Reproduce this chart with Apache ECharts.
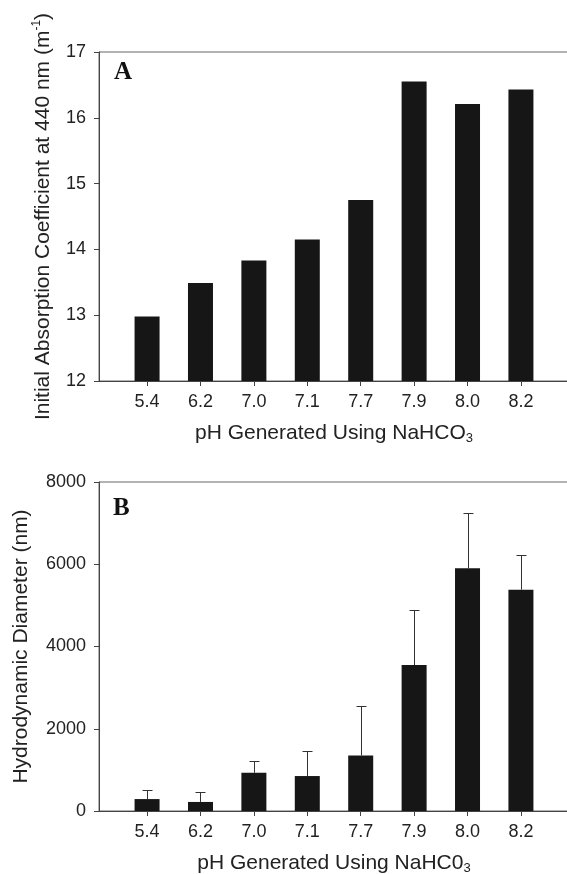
<!DOCTYPE html>
<html>
<head>
<meta charset="utf-8">
<script src="https://cdn.jsdelivr.net/npm/echarts@6/dist/echarts.min.js"></script>
<style>
html,body{margin:0;padding:0;background:#fff;overflow:hidden;}
#chart{width:567px;height:874px;}
</style>
</head>
<body>
<div id="chart"></div>
<script>
const categories = ['5.4','6.2','7.0','7.1','7.7','7.9','8.0','8.2'];
const absorption = [12.98, 13.49, 13.83, 14.15, 14.75, 16.55, 16.21, 16.43];
const diameter = [290, 220, 930, 850, 1350, 3550, 5900, 5380];
const diameterSD = [210, 230, 285, 620, 1195, 1340, 1355, 850];
const absTicks = {min: 12, max: 17, interval: 1};
const diaTicks = {min: 0, max: 8000, interval: 2000};

const FONT = 'Liberation Sans, Arial, Helvetica, sans-serif';
const idx = categories.map((c, i) => i);
const barColor = '#161616';
const axisColor = '#444';

function xAxisFor(gridIndex) {
  return {
    type: 'value', gridIndex: gridIndex, min: -0.9, max: 7.9,
    axisLine: {show: true, onZero: false, lineStyle: {color: axisColor, width: 1}},
    axisTick: {show: true, length: 5, lineStyle: {color: axisColor}, customValues: idx},
    axisLabel: {show: true, color: '#222', fontSize: 18, fontFamily: FONT, margin: 12,
      customValues: idx, formatter: v => categories[Math.round(v)]},
    splitLine: {show: false},
    nameLocation: 'middle', nameGap: 40,
    nameTextStyle: {color: '#222', fontSize: 21, fontFamily: FONT, lineHeight: 24,
      rich: {sub: {fontSize: 13, fontFamily: FONT, color: '#222', verticalAlign: 'bottom', lineHeight: 14}}}
  };
}
function yAxisFor(gridIndex, t, name, gap) {
  return {
    type: 'value', gridIndex: gridIndex, min: t.min, max: t.max, interval: t.interval,
    axisLine: {show: true, onZero: false, lineStyle: {color: axisColor, width: 1}},
    axisTick: {show: true, length: 5, lineStyle: {color: axisColor}},
    axisLabel: {color: '#222', fontSize: 18, fontFamily: FONT, margin: 13, formatter: v => String(v)},
    splitLine: {show: false},
    name: name, nameLocation: 'middle', nameGap: gap, nameRotate: 90,
    nameTextStyle: {color: '#222', fontSize: 21, fontFamily: FONT, lineHeight: 24,
      rich: {sup: {fontSize: 12, fontFamily: FONT, color: '#222', verticalAlign: 'top', lineHeight: 12}}}
  };
}

const xA = xAxisFor(0); xA.name = 'pH Generated Using NaHCO{sub|3}';
const xB = xAxisFor(1); xB.name = 'pH Generated Using NaHC0{sub|3}';

const option = {
  animation: false,
  backgroundColor: '#fff',
  grid: [
    {left: 99, top: 52, width: 470, height: 329, outerBoundsMode: 'none', containLabel: false,
      show: true, borderColor: '#666', borderWidth: 1, backgroundColor: 'transparent'},
    {left: 99, top: 482, width: 470, height: 329, outerBoundsMode: 'none', containLabel: false,
      show: true, borderColor: '#666', borderWidth: 1, backgroundColor: 'transparent'}
  ],
  xAxis: [xA, xB],
  yAxis: [
    yAxisFor(0, absTicks, 'Initial Absorption Coefficient at 440 nm (m{sup|-1})', 43),
    yAxisFor(1, diaTicks, 'Hydrodynamic Diameter (nm)', 66)
  ],
  graphic: [
    {type: 'text', left: 114, top: 60, style: {text: 'A', font: 'bold 25px "Liberation Serif", "Times New Roman", serif', fill: '#111'}},
    {type: 'text', left: 113, top: 496, style: {text: 'B', font: 'bold 25px "Liberation Serif", "Times New Roman", serif', fill: '#111'}}
  ],
  series: [
    {type: 'bar', xAxisIndex: 0, yAxisIndex: 0, barWidth: 25,
      itemStyle: {color: barColor}, data: absorption.map((v, i) => [i, v])},
    {type: 'bar', xAxisIndex: 1, yAxisIndex: 1, barWidth: 25,
      itemStyle: {color: barColor}, data: diameter.map((v, i) => [i, v])},
    {type: 'custom', xAxisIndex: 1, yAxisIndex: 1, z: 3,
      data: diameter.map((v, i) => [i, v, v + diameterSD[i]]),
      renderItem: function (params, api) {
        const x = api.value(0);
        const p0 = api.coord([x, api.value(1)]);
        const p1 = api.coord([x, api.value(2)]);
        const cx = Math.round(p0[0]) + 0.5;
        const ty = Math.round(p1[1]) + 0.5;
        const style = {stroke: '#333', lineWidth: 1, fill: null};
        return {type: 'group', children: [
          {type: 'line', shape: {x1: cx, y1: p0[1], x2: cx, y2: ty}, style: style},
          {type: 'line', shape: {x1: cx - 5, y1: ty, x2: cx + 5, y2: ty}, style: style}
        ]};
      }}
  ]
};
const chart = echarts.init(document.getElementById('chart'), null, {renderer: 'canvas'});
chart.setOption(option);
</script>
</body>
</html>
